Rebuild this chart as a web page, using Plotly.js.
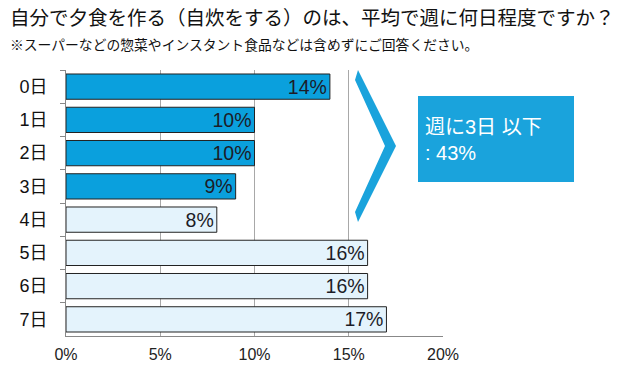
<!DOCTYPE html>
<html><head><meta charset="utf-8">
<script src="https://cdn.plot.ly/plotly-3.0.1.min.js"></script>
<style>body{margin:0;background:#fff}#c{width:640px;height:379px}</style>
</head><body><div id="c"></div>
<script>
const categories = ["0日","1日","2日","3日","4日","5日","6日","7日"];
const values = [14,10,10,9,8,16,16,17];
const inSummary = [true,true,true,true,false,false,false,false];
const summaryText = "週に3日 以下<br>: 43%";
const titleText = "自分で夕食を作る（自炊をする）のは、平均で週に何日程度ですか？";
const subtitleText = "※スーパーなどの惣菜やインスタント食品などは含めずにご回答ください。";
const xTicks = [0,5,10,15,20];

const FONT = "Liberation Sans, Noto Sans CJK JP, sans-serif";
const DARK = "#0aa0dd", LIGHT = "#e4f3fc";

// plot area in px: left 66, right 443, top 70, bottom 336
const L=66,R=443,T=70,B=336;
const px=x=>(x-L)/(R-L), py=y=>(B-y)/(B-T);

const chevron = [[358,70],[396,146],[358,222],[355,212],[385,146],[355,80]]
  .map((p,i)=>(i?"L":"M")+px(p[0])+","+py(p[1])).join(" ")+" Z";

Plotly.newPlot("c",[{
  type:"bar", orientation:"h",
  y:categories, x:values,
  marker:{color:inSummary.map(s=>s?DARK:LIGHT), line:{color:"#222",width:1}},
  text:values.map(v=>v+"%"), textposition:"inside", insidetextanchor:"end",
  constraintext:"none",
  textfont:{family:FONT,size:19.5,color:"#1c1c28"},
  hoverinfo:"none", cliponaxis:false
}],{
  width:640,height:379,
  margin:{l:L,r:640-R,t:T,b:379-B},
  paper_bgcolor:"#fff",plot_bgcolor:"#fff",
  showlegend:false, bargap:0.24,
  font:{family:FONT,color:"#111"},
  xaxis:{range:[0,20],tickvals:xTicks,ticktext:xTicks.map(v=>v+"%"),
    showgrid:true,gridcolor:"#a8a8a8",gridwidth:1,zeroline:false,
    showline:true,linecolor:"#888",linewidth:1,
    tickfont:{family:FONT,size:16,color:"#222"},ticks:"",ticklabelstandoff:4,fixedrange:true},
  yaxis:{type:"category",autorange:"reversed",tickson:"boundaries",
    ticks:"outside",ticklen:5,tickcolor:"#888",
    showline:true,linecolor:"#888",linewidth:1,showgrid:false,
    tickfont:{family:FONT,size:18,color:"#111"},ticklabelstandoff:14},
  shapes:[
    {type:"path",xref:"paper",yref:"paper",path:chevron,fillcolor:"#1aa3dc",line:{width:0}},
    {type:"rect",xref:"paper",yref:"paper",x0:px(418),x1:px(574),y0:py(182),y1:py(96),
      fillcolor:"#1aa3dc",line:{width:0}}
  ],
  annotations:[
    {xref:"paper",yref:"paper",x:px(423),y:py(140),xanchor:"left",yanchor:"middle",
      text:summaryText,showarrow:false,align:"left",
      font:{family:FONT,size:20,color:"#fff"}},
    {xref:"paper",yref:"paper",x:px(8),y:py(17),xanchor:"left",yanchor:"middle",
      text:titleText,showarrow:false,font:{family:"Noto Sans CJK JP",size:19.5,color:"#111"}},
    {xref:"paper",yref:"paper",x:px(8),y:py(44),xanchor:"left",yanchor:"middle",
      text:subtitleText,showarrow:false,font:{family:"Noto Sans CJK JP",size:13.8,color:"#111"}}
  ]
},{displayModeBar:false,staticPlot:true});
</script></body></html>
